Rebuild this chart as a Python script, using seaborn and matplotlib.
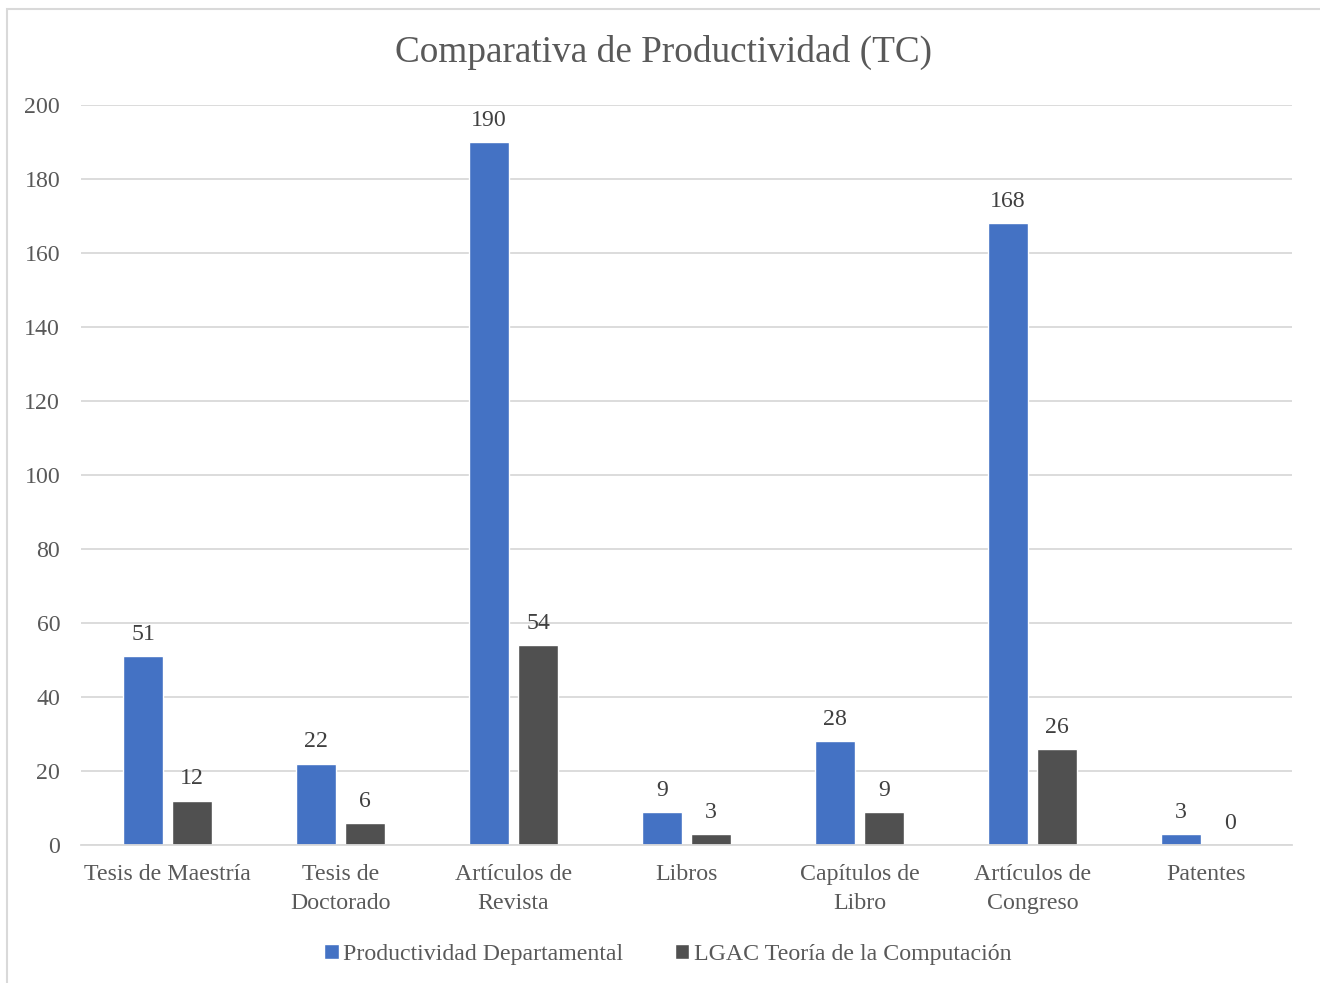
import matplotlib.pyplot as plt
import pandas as pd
import seaborn as sns
from matplotlib.patches import Rectangle

CATEGORIES = [
    "Tesis de Maestría",
    "Tesis de\nDoctorado",
    "Artículos de\nRevista",
    "Libros",
    "Capítulos de\nLibro",
    "Artículos de\nCongreso",
    "Patentes",
]
SERIES = ["Productividad Departamental", "LGAC Teoría de la Computación"]
DEPARTAMENTAL = [51, 22, 190, 9, 28, 168, 3]
LGAC = [12, 6, 54, 3, 9, 26, 0]
Y_TICKS = [0, 20, 40, 60, 80, 100, 120, 140, 160, 180, 200]

TEXT_COLOR = "#595959"
GRID_COLOR = "#D9D9D9"
PALETTE = ["#4472C4", "#505050"]

data = pd.DataFrame(
    {
        "categoria": CATEGORIES * 2,
        "serie": [SERIES[0]] * len(CATEGORIES) + [SERIES[1]] * len(CATEGORIES),
        "valor": DEPARTAMENTAL + LGAC,
    }
)

sns.set_style("white")
plt.rcParams["font.family"] = ["Liberation Serif", "DejaVu Serif"]

fig = plt.figure(figsize=(13.2, 9.83), dpi=100)
ax = fig.add_axes([0.0614, 0.1404, 0.9174, 0.7528])

sns.barplot(
    data=data,
    x="categoria",
    y="valor",
    hue="serie",
    hue_order=SERIES,
    palette=PALETTE,
    width=0.566,
    gap=0.2,
    saturation=1,
    ax=ax,
)

for container in ax.containers:
    ax.bar_label(container, padding=8, fontsize=17.2, color="#404040")

ax.set_ylim(0, 200)
ax.set_xlim(-0.5, len(CATEGORIES) - 0.5)
ax.set_yticks(Y_TICKS)
ax.yaxis.grid(True, color=GRID_COLOR, linewidth=1.3)
ax.set_axisbelow(True)
ax.tick_params(axis="both", length=0, labelsize=17.2, labelcolor=TEXT_COLOR)
ax.tick_params(axis="y", pad=15)
ax.tick_params(axis="x", pad=14)
for lbl in ax.get_xticklabels():
    lbl.set_linespacing(1.45)
ax.set_xlabel("")
ax.set_ylabel("")
for side in ["left", "right", "top"]:
    ax.spines[side].set_visible(False)
ax.spines["bottom"].set_color(GRID_COLOR)
ax.spines["bottom"].set_linewidth(1.3)

fig.suptitle(
    "Comparativa de Productividad (TC)",
    x=0.503,
    y=0.965,
    fontsize=26.8,
    color=TEXT_COLOR,
)

handles, labels = ax.get_legend_handles_labels()
ax.get_legend().remove()
fig.legend(
    handles,
    labels,
    loc="center",
    bbox_to_anchor=(0.506, 0.029),
    ncol=2,
    frameon=False,
    fontsize=17.2,
    labelcolor=TEXT_COLOR,
    handlelength=0.6,
    handleheight=0.6,
    handletextpad=0.2,
    columnspacing=2.15,
)

fig.patches.append(
    Rectangle(
        (7 / 1320, -0.01),
        1.02,
        (983 - 9) / 983 + 0.01,
        transform=fig.transFigure,
        fill=False,
        edgecolor=GRID_COLOR,
        linewidth=1.5,
        clip_on=False,
    )
)

fig.savefig("out.png", dpi=100)
